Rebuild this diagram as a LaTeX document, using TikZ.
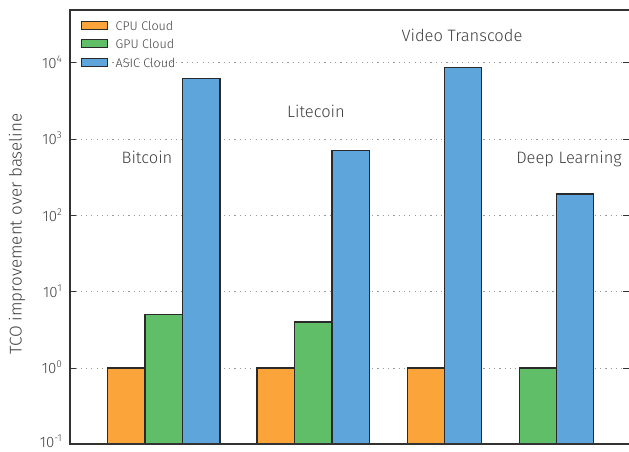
\documentclass[tikz,border=0pt]{standalone}
\usepackage{fontspec}
\setmainfont{Fira Sans Light}
\definecolor{cpuc}{HTML}{FAA43A}
\definecolor{gpuc}{HTML}{60BD68}
\definecolor{asicc}{HTML}{5DA5DA}
\definecolor{txtc}{HTML}{404040}
\definecolor{axc}{HTML}{333333}
\definecolor{edgec}{HTML}{2A2A2A}
\begin{document}
\begin{tikzpicture}[x=1pt,y=-1pt,
  bar/.style={draw=edgec,line width=1.1pt},
  grid line/.style={draw=gray!80,line width=1pt,dash pattern=on 1.2pt off 4.1pt},
  axis line/.style={draw=axc,line width=1.2pt},
  tick mark/.style={draw=axc,line width=1pt},
  ticklabel/.style={text=txtc,font=\fontsize{15}{17}\selectfont,anchor=east,inner sep=0pt},
  grouplabel/.style={text=txtc,font=\fontsize{16.5}{19}\selectfont,anchor=base,inner sep=0pt},
  legendtext/.style={text=txtc,font=\fontsize{12.5}{14}\selectfont,anchor=west,inner sep=0pt},
  swatch/.style={draw=edgec,line width=1pt}]
\useasboundingbox (0,0) rectangle (629,452);
% grid
\foreach \yy in {368,291.7,215.4,139.1,62.8}{
  \draw[grid line] (70,\yy) -- (629,\yy);
  \draw[tick mark] (70,\yy) -- (76,\yy);
  \draw[tick mark] (629,\yy) -- (623,\yy);
}
% bars: Bitcoin
\draw[bar,fill=cpuc] (107.7,444) rectangle (145,368);
\draw[bar,fill=gpuc] (145,444) rectangle (182.3,314.3);
\draw[bar,fill=asicc] (182.3,444) rectangle (220,78.3);
% Litecoin
\draw[bar,fill=cpuc] (257,444) rectangle (294.5,368);
\draw[bar,fill=gpuc] (294.5,444) rectangle (332,322);
\draw[bar,fill=asicc] (332,444) rectangle (369.7,150.3);
% Video Transcode
\draw[bar,fill=cpuc] (407.3,444) rectangle (444.5,368);
\draw[bar,fill=asicc] (444.5,444) rectangle (481.7,67.7);
% Deep Learning
\draw[bar,fill=gpuc] (519.3,444) rectangle (556.7,368);
\draw[bar,fill=asicc] (556.7,444) rectangle (593.7,194);
% axes
\draw[axis line] (629,10) -- (70,10) -- (70,444) -- (629,444);
% tick labels
\node[ticklabel] (t4) at (62,62) {10\raisebox{0.75ex}{\fontsize{10}{12}\selectfont 4}};
\node[ticklabel] (t3) at (62,138.6) {10\raisebox{0.75ex}{\fontsize{10}{12}\selectfont 3}};
\node[ticklabel] (t2) at (62,214.9) {10\raisebox{0.75ex}{\fontsize{10}{12}\selectfont 2}};
\node[ticklabel] (t1) at (62,291.2) {10\raisebox{0.75ex}{\fontsize{10}{12}\selectfont 1}};
\node[ticklabel] (t0) at (62,367.5) {10\raisebox{0.75ex}{\fontsize{10}{12}\selectfont 0}};
\node[ticklabel] (tm) at (62,441.5) {10\raisebox{0.75ex}{\fontsize{10}{12}\selectfont -1}};
% y label
\node[text=txtc,font=\fontsize{17}{20}\selectfont,rotate=90,inner sep=0pt] (ylab) at (17,234) {TCO improvement over baseline};
% group labels
\node[grouplabel] (lb) at (147,163) {Bitcoin};
\node[grouplabel] (ll) at (316,117) {Litecoin};
\node[grouplabel] (lv) at (462,41.5) {Video Transcode};
\node[grouplabel] (ld) at (569,163) {Deep Learning};
% legend
\draw[swatch,fill=cpuc] (81,22) rectangle (107.3,30);
\draw[swatch,fill=gpuc] (81,40) rectangle (107.3,48);
\draw[swatch,fill=asicc] (81,58.5) rectangle (107.3,66.5);
\node[legendtext] (lc) at (115.5,26) {CPU Cloud};
\node[legendtext] (lg) at (115.5,44) {GPU Cloud};
\node[legendtext] (la) at (115.5,62.5) {ASIC Cloud};
\end{tikzpicture}
\end{document}
